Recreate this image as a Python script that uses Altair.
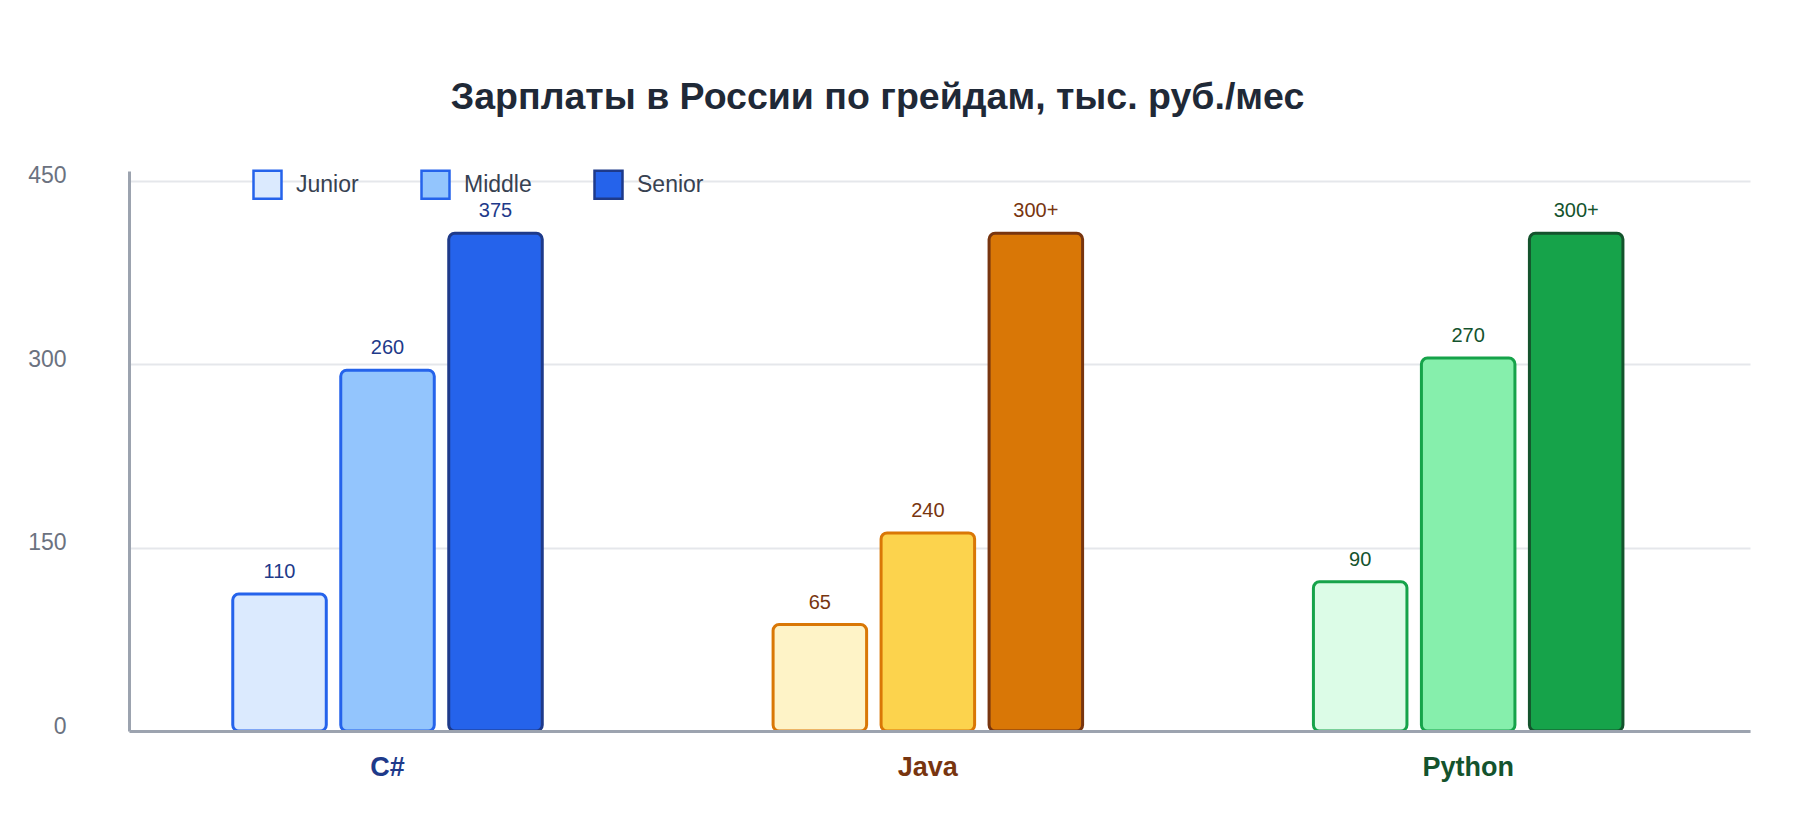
import pandas as pd
import altair as alt

FONT = "Liberation Sans"

langs = ["C#", "Java", "Python"]
grades = ["Junior", "Middle", "Senior"]

# bar heights as drawn on the axis (the printed labels differ from them)
csharp = [112, 295, 407]
java = [87, 162, 407]
python = [122, 305, 407]

csharp_labels = ["110", "260", "375"]
java_labels = ["65", "240", "300+"]
python_labels = ["90", "270", "300+"]

y_ticks = [0, 150, 300, 450]

rows = []
for lang, vals, labs in zip(langs, [csharp, java, python],
                            [csharp_labels, java_labels, python_labels]):
    for grade, v, lab in zip(grades, vals, labs):
        rows.append({"lang": lang, "grade": grade, "key": lang + " " + grade,
                     "value": v, "label": lab})
df = pd.DataFrame(rows)
keys = list(df["key"])

# palette
fills = ["#dbeafe", "#93c5fd", "#2563eb",
         "#fef3c7", "#fcd34d", "#d97706",
         "#dcfce7", "#86efac", "#16a34a"]
strokes = ["#2563eb", "#2563eb", "#1e3a8a",
           "#d97706", "#d97706", "#78350f",
           "#16a34a", "#16a34a", "#14532d"]
text_colors = ["#1e3a8a", "#78350f", "#14532d"]

x = alt.X(
    "lang:N", sort=langs, title=None,
    scale=alt.Scale(paddingInner=0.4272, paddingOuter=0.2136, align=0.4495),
    axis=alt.Axis(
        labelAngle=0, ticks=False, tickSize=0, grid=False,
        domainColor="#9ca3af", domainWidth=3,
        labelFont=FONT, labelFontSize=27, labelFontWeight="bold", labelPadding=23,
        labelColor=alt.ExprRef(
            expr="datum.value == 'C#' ? '#1e3a8a' : datum.value == 'Java' ? '#78350f' : '#14532d'")))
xoff = alt.XOffset("grade:N", sort=grades,
                   scale=alt.Scale(paddingInner=0.134, paddingOuter=0))
y = alt.Y(
    "value:Q", title=None,
    scale=alt.Scale(domain=[0, 458], nice=False),
    axis=alt.Axis(
        values=y_ticks, ticks=False, tickSize=0,
        domainColor="#9ca3af", domainWidth=3,
        gridColor="#e5e7eb", gridWidth=2,
        labelFont=FONT, labelFontSize=23, labelColor="#6b7280",
        labelPadding=63, labelOffset=-5))

bars = alt.Chart(df).mark_rect(cornerRadius=6).encode(
    x=x, xOffset=xoff, y=y, y2=alt.datum(0),
    fill=alt.Fill("key:N", scale=alt.Scale(domain=keys, range=fills), legend=None),
    stroke=alt.Stroke("key:N", scale=alt.Scale(domain=keys, range=strokes), legend=None),
    strokeWidth=alt.value(3),
)

text = alt.Chart(df).mark_text(baseline="alphabetic", dy=-16, fontSize=20, font=FONT).encode(
    x=x, xOffset=xoff, y=y, text="label:N",
    color=alt.Color("lang:N", scale=alt.Scale(domain=langs, range=text_colors), legend=None),
)

leg = alt.Legend(
    title=None, orient="none", legendX=123, legendY=-2, direction="horizontal",
    symbolType="square", symbolSize=784, symbolStrokeWidth=2.5, symbolOpacity=1,
    labelFont=FONT, labelFontSize=23, labelColor="#374151", labelOffset=13,
    columnPadding=57, padding=0)

legend_layer = alt.Chart(df[df["lang"] == "C#"]).mark_point(
    shape="square", filled=True, opacity=0).encode(
    x=x, xOffset=xoff, y=y,
    fill=alt.Fill("grade:N", sort=grades,
                  scale=alt.Scale(domain=grades, range=fills[:3]), legend=leg),
    stroke=alt.Stroke("grade:N", sort=grades,
                      scale=alt.Scale(domain=grades, range=strokes[:3]), legend=leg),
)

chart = alt.layer(bars, text, legend_layer).resolve_scale(
    fill="independent", stroke="independent"
).properties(
    width=1621,
    height=560,
    padding={"left": 19, "top": 71, "right": 10, "bottom": 10},
    title=alt.Title(
        "Зарплаты в России по грейдам, тыс. руб./мес",
        font=FONT, fontSize=37.5, fontWeight="bold", color="#1f2937",
        anchor="middle", dx=-62, baseline="alphabetic", offset=18),
).configure_view(stroke=None)

chart.save("out.html", embed_options={"renderer": "svg", "actions": False})
